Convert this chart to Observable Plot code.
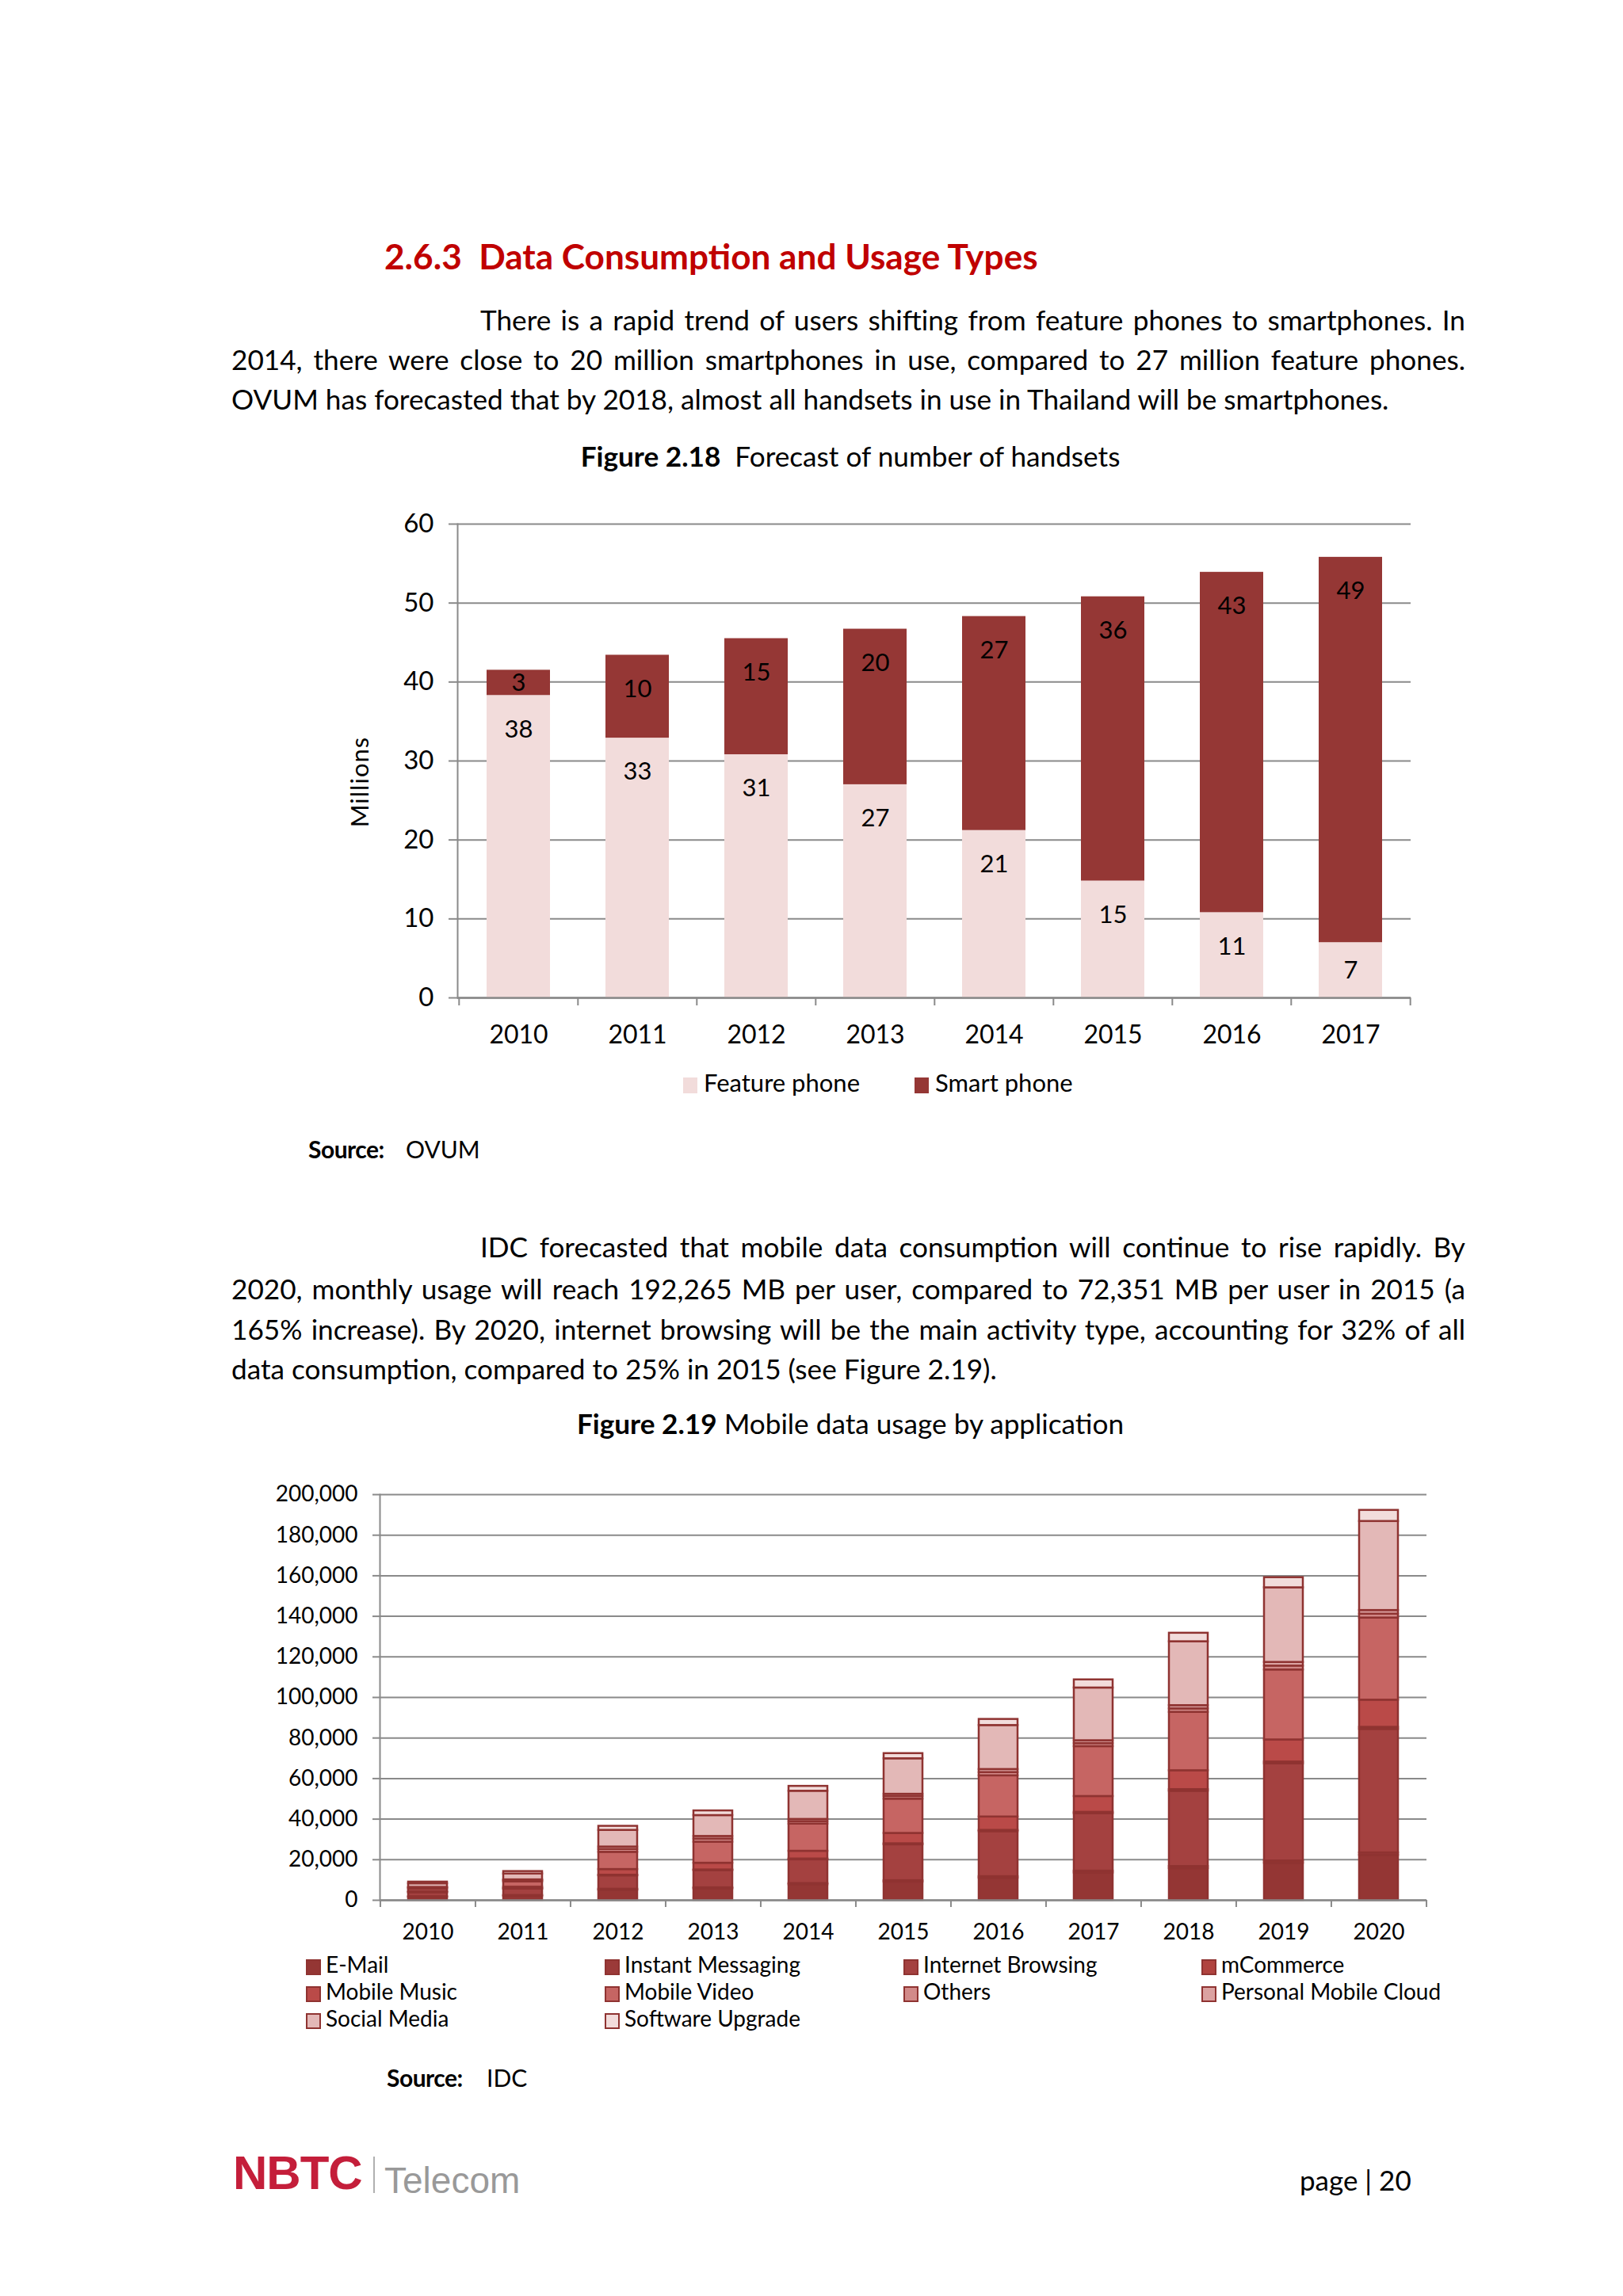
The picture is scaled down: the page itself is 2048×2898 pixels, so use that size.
<!DOCTYPE html>
<html><head><meta charset="utf-8">
<script src="https://cdn.jsdelivr.net/npm/d3@7"></script>
<script src="https://cdn.jsdelivr.net/npm/@observablehq/plot@0.6"></script>
<style>
html,body{margin:0;padding:0;background:#fff;}
body{width:2048px;height:2898px;position:relative;overflow:hidden;font-family:Lato,"Open Sans",sans-serif;color:#000;}
.abs{position:absolute;white-space:nowrap;}
.jl{position:absolute;white-space:nowrap;text-align:justify;text-align-last:justify;line-height:44px;}
.ll{position:absolute;white-space:nowrap;line-height:44px;}
.title{color:#C00000;font-weight:700;}
.cap{position:absolute;white-space:nowrap;line-height:44px;transform:translateX(-50%);}
.lg{position:absolute;white-space:nowrap;line-height:36px;}
.sw{display:inline-block;vertical-align:middle;margin-right:8px;}
</style>
</head><body>
<div id="page"></div>
<script>
// ---------------- DATA ----------------
const years1 = ["2010","2011","2012","2013","2014","2015","2016","2017"];
const featurePhone = [38.3, 32.9, 30.8, 27.0, 21.2, 14.8, 10.8, 7.0];
const smartPhone   = [3.2, 10.5, 14.7, 19.7, 27.1, 36.0, 43.1, 48.8];
const featureLabels = ["38","33","31","27","21","15","11","7"];
const smartLabels   = ["3","10","15","20","27","36","43","49"];
const handsetSeries = ["Feature phone","Smart phone"];
const handsetColors = ["#F2DCDB","#953735"];
const yTicks1 = [0,10,20,30,40,50,60];

const years2 = ["2010","2011","2012","2013","2014","2015","2016","2017","2018","2019","2020"];
const apps = ["E-Mail","Instant Messaging","Internet Browsing","mCommerce","Mobile Music","Mobile Video","Others","Personal Mobile Cloud","Social Media","Software Upgrade"];
const eMail            = [1500, 2000, 5000, 5700, 7700, 9000, 10900, 13500, 15700, 18300, 22200];
const instantMessaging = [300, 400, 500, 500, 600, 700, 800, 900, 1000, 1100, 1200];
const internetBrowsing = [2000, 3200, 6600, 8500, 11700, 17700, 22200, 28300, 37100, 47900, 60900];
const mCommerce        = [100, 100, 300, 300, 400, 500, 600, 700, 800, 900, 1000];
const mobileMusic      = [500, 800, 2800, 3300, 3800, 5100, 6600, 7800, 9300, 10900, 13400];
const mobileVideo      = [1200, 2600, 8500, 10400, 13400, 16900, 20300, 24600, 28800, 34500, 40500];
const others           = [500, 600, 1400, 1500, 1200, 1300, 1600, 1500, 1700, 1900, 1900];
const personalCloud    = [300, 400, 1200, 1300, 1100, 1100, 1500, 1400, 1600, 1800, 1800];
const socialMedia      = [1800, 2900, 8200, 10300, 13900, 17500, 21700, 26000, 31500, 36800, 43900];
const softwareUpgrade  = [800, 1200, 2000, 2300, 2400, 2551, 3000, 4000, 4200, 5000, 5465];
const appColors = ["#943634","#9B3A39","#A44140","#B0433F","#BA4A48","#C66563","#D28A89","#DBA2A1","#E3B8B7","#F2DCDB"];
const yTicks2 = [0,20000,40000,60000,80000,100000,120000,140000,160000,180000,200000];

const para1 = [
 "There is a rapid trend of users shifting from feature phones to smartphones. In",
 "2014, there were close to 20 million smartphones in use, compared to 27 million feature phones.",
 "OVUM has forecasted that by 2018, almost all handsets in use in Thailand will be smartphones."
];
const para2 = [
 "IDC forecasted that mobile data consumption will continue to rise rapidly. By",
 "2020, monthly usage will reach 192,265 MB per user, compared to 72,351 MB per user in 2015 (a",
 "165% increase). By 2020, internet browsing will be the main activity type, accounting for 32% of all",
 "data consumption, compared to 25% in 2015 (see Figure 2.19)."
];

// ---------------- helpers ----------------
const page = document.getElementById("page");
function add(tag, cls, html, style){ const e=document.createElement(tag); if(cls) e.className=cls; e.innerHTML=html; Object.assign(e.style, style||{}); page.appendChild(e); return e; }
function natWidth(text, size, weight){ const s=document.createElement("span"); s.className="abs"; s.style.fontSize=size+"px"; s.style.fontWeight=weight||400; s.textContent=text; s.style.visibility="hidden"; page.appendChild(s); const w=s.getBoundingClientRect().width; page.removeChild(s); return w; }

const s1 = 34*1458/natWidth(para1[2],34);
const s2 = 34*968/natWidth(para2[3],34);
const bodySize = (s1+s2)/2;

function bodyLines(lines, centers){
  const L = 1849;
  lines.forEach((t,i)=>{
    const left = i===0 ? 606 : 292;
    const last = i===lines.length-1;
    let size = bodySize;
    const w = natWidth(t,size);
    if(!last && w > L-left) size = size*(L-left)/w*0.995;
    const e = add("div", last?"ll":"jl", t, {left:left+"px", top:(centers[i]-22)+"px", fontSize:size+"px"});
    if(!last) e.style.width=(L-left)+"px";
  });
}

const tSize = 44*825/natWidth("2.6.3\u00a0\u00a0Data Consumption and Usage Types",44,700);
add("div","abs title","2.6.3&nbsp;&nbsp;Data Consumption and Usage Types",{left:"485px",top:(323-tSize*0.62)+"px",fontSize:tSize+"px",lineHeight:(tSize*1.24)+"px"});

bodyLines(para1,[403,453,503]);
add("div","cap","<b>Figure 2.18</b>&nbsp; Forecast of number of handsets",{left:"1073px",top:(575-22)+"px",fontSize:bodySize+"px"});

// ---------------- Chart 1 ----------------
const W1=1420,H1=720,ML1=177,MR1=40,MT1=41,MB1=81;
const step1=(W1-ML1-MR1)/years1.length;
const handsetRows=[];
years1.forEach((yr,i)=>{
  handsetRows.push({year:yr,type:handsetSeries[0],value:featurePhone[i],label:featureLabels[i],top:featurePhone[i]});
  handsetRows.push({year:yr,type:handsetSeries[1],value:smartPhone[i],label:smartLabels[i],top:featurePhone[i]+smartPhone[i]});
});
const grey="#8a8a8a";
const chart1 = Plot.plot({
  width:W1,height:H1,marginLeft:ML1,marginRight:MR1,marginTop:MT1,marginBottom:MB1,
  style:{fontFamily:"Lato, sans-serif",fontSize:"33px",color:"#000",background:"transparent",overflow:"visible"},
  x:{domain:years1,paddingInner:0.47,paddingOuter:0.235,label:null},
  y:{domain:[0,60],label:null},
  color:{domain:handsetSeries,range:handsetColors},
  marks:[
    Plot.gridY(yTicks1,{stroke:grey,strokeOpacity:1,strokeWidth:2}),
    Plot.barY(handsetRows,{x:"year",y:"value",fill:"type"}),
    Plot.text(handsetRows,{x:"year",y:d=>d.top-Math.min(4.3,d.value/2),text:"label",fontSize:31,fill:"#000"}),
    Plot.axisY({ticks:yTicks1,tickSize:11,tickPadding:19,stroke:grey,strokeWidth:2,fontSize:33,label:null}),
    Plot.axisX({tickSize:0,tickPadding:35,fontSize:32,label:null}),
    Plot.ruleY([0],{stroke:grey,strokeWidth:2.5}),
    Plot.ruleX(years1,{x:d=>d,y1:0,y2:0,insetBottom:-10,dx:-step1/2,stroke:grey,strokeWidth:2}),
    Plot.ruleX([years1[years1.length-1]],{x:d=>d,y1:0,y2:0,insetBottom:-10,dx:step1/2,stroke:grey,strokeWidth:2}),
    Plot.frame({anchor:"left",stroke:grey,strokeWidth:2})
  ]
});
const c1=document.createElement("div");c1.style.cssText="position:absolute;left:400px;top:620px;";c1.appendChild(chart1);page.appendChild(c1);

add("div","abs","Millions",{left:"453px",top:"987px",fontSize:"31px",transform:"translate(-50%,-50%) rotate(-90deg)",letterSpacing:"1px"});
add("div","lg",`<span class="sw" style="width:18px;height:20px;background:${handsetColors[0]}"></span>${handsetSeries[0]}`,{left:"862px",top:(1366-18)+"px",fontSize:"31px"});
add("div","lg",`<span class="sw" style="width:18px;height:20px;background:${handsetColors[1]}"></span>${handsetSeries[1]}`,{left:"1154px",top:(1366-18)+"px",fontSize:"31px"});

add("div","abs","<b>Source:</b>",{left:"389px",top:(1450-20)+"px",fontSize:"30px",lineHeight:"40px",letterSpacing:"-0.5px"});
add("div","abs","OVUM",{left:"512px",top:(1450-20)+"px",fontSize:"30px",lineHeight:"40px"});

bodyLines(para2,[1573,1626,1677,1727]);
add("div","cap","<b>Figure 2.19</b> Mobile data usage by application",{left:"1073px",top:(1796-22)+"px",fontSize:bodySize+"px"});

// ---------------- Chart 2 ----------------
const W2=1520,H2=620,ML2=159,MR2=40,MT2=36,MB2=72;
const step2=(W2-ML2-MR2)/years2.length;
const appSeries=[eMail,instantMessaging,internetBrowsing,mCommerce,mobileMusic,mobileVideo,others,personalCloud,socialMedia,softwareUpgrade];
const usageRows=[];
apps.forEach((a,k)=>years2.forEach((yr,i)=>usageRows.push({year:yr,app:a,value:appSeries[k][i]})));
const edge="#8F3331";
const chart2 = Plot.plot({
  width:W2,height:H2,marginLeft:ML2,marginRight:MR2,marginTop:MT2,marginBottom:MB2,
  style:{fontFamily:"Lato, sans-serif",fontSize:"28px",color:"#000",background:"transparent",overflow:"visible"},
  x:{domain:years2,paddingInner:0.59,paddingOuter:0.295,label:null},
  y:{domain:[0,200000],label:null},
  color:{domain:apps,range:appColors},
  marks:[
    Plot.gridY(yTicks2,{stroke:grey,strokeOpacity:1,strokeWidth:2}),
    Plot.barY(usageRows,{x:"year",y:"value",fill:"app",stroke:edge,strokeWidth:2.5}),
    Plot.axisY({ticks:yTicks2,tickFormat:d3.format(","),tickSize:9,tickPadding:19,stroke:grey,strokeWidth:2,fontSize:28,label:null}),
    Plot.axisX({tickSize:0,tickPadding:30,fontSize:28,label:null}),
    Plot.ruleY([0],{stroke:grey,strokeWidth:2.5}),
    Plot.ruleX(years2,{x:d=>d,y1:0,y2:0,insetBottom:-9,dx:-step2/2,stroke:grey,strokeWidth:2}),
    Plot.ruleX([years2[years2.length-1]],{x:d=>d,y1:0,y2:0,insetBottom:-9,dx:step2/2,stroke:grey,strokeWidth:2}),
    Plot.frame({anchor:"left",stroke:grey,strokeWidth:2})
  ]
});
const c2=document.createElement("div");c2.style.cssText="position:absolute;left:320px;top:1850px;";c2.appendChild(chart2);page.appendChild(c2);

const colX=[386,763,1140,1516], rowY=[2479,2513,2547];
apps.forEach((a,k)=>{
  const r=Math.floor(k/4), c=k%4;
  add("div","lg",`<span class="sw" style="width:15px;height:16px;background:${appColors[k]};border:2px solid ${edge};margin-right:6px"></span>${a}`,{left:colX[c]+"px",top:(rowY[r]-18)+"px",fontSize:"28px"});
});

add("div","abs","<b>Source:</b>",{left:"488px",top:(2622-20)+"px",fontSize:"30px",lineHeight:"40px",letterSpacing:"-0.5px"});
add("div","abs","IDC",{left:"614px",top:(2622-20)+"px",fontSize:"30px",lineHeight:"40px"});

// footer
add("div","abs","NBTC",{left:"294px",top:"2711px",fontSize:"60px",lineHeight:"64px",fontFamily:"'Liberation Sans',Arial,sans-serif",fontWeight:"700",color:"#C41E3A",letterSpacing:"-1px"});
add("div","abs","",{left:"471px",top:"2722px",width:"2px",height:"46px",background:"#b0b0b0"});
add("div","abs","Telecom",{left:"485px",top:"2727px",fontSize:"46px",lineHeight:"50px",fontFamily:"'Liberation Sans',Arial,sans-serif",color:"#999999"});
add("div","abs","page | 20",{left:"1640px",top:(2751-22)+"px",fontSize:"35px",lineHeight:"44px"});
</script>
</body></html>
